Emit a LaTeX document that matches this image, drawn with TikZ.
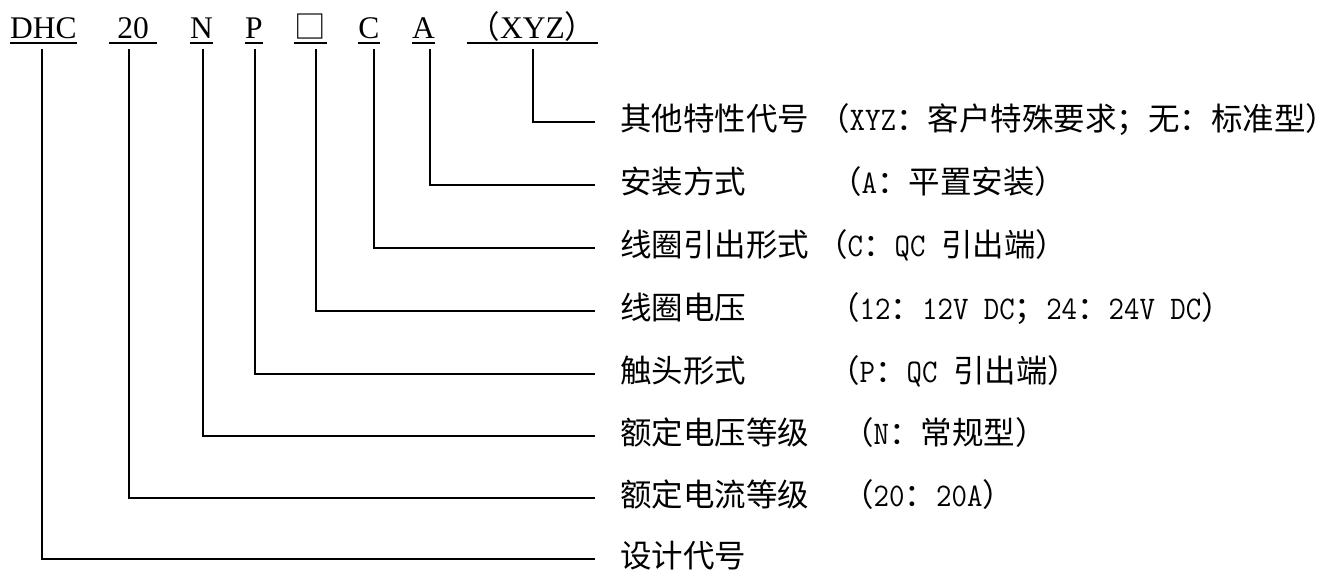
\documentclass[tikz,border=0pt]{standalone}
\usepackage{fontspec}
\setmainfont{Liberation Serif}
\newfontfamily\cjk{Noto Sans CJK SC}
\newfontfamily\hwfont{Latin Modern Mono}[FakeStretch=0.909]
\newcommand\hwtxt[1]{{\hwfont\fontsize{33}{36}\selectfont #1}}
\begin{document}
\begin{tikzpicture}[x=1pt,y=-1pt,
  conn/.style={line width=1.8pt},
  uline/.style={line width=2pt},
  top/.style={inner sep=0pt, anchor=base, text depth=4pt, font=\fontsize{31.5}{36}\selectfont},
  lab/.style={inner sep=0pt, anchor=west, text height=24pt, text depth=6.5pt, font=\cjk\fontsize{31.5}{36}\selectfont}]
\fill[white] (0,0) rectangle (1341,572);
\useasboundingbox (0,0) rectangle (1341,572);
% top row
\node[top, minimum width=67pt] (t1) at (43.5,39) {DHC};
\node[top, minimum width=48pt] (t2) at (133,39) {20\hspace{16.5pt}};
\node[top, minimum width=23pt] (t3) at (201.5,39) {N};
\node[top, minimum width=18pt] (t4) at (254,39) {P};
\node[top, minimum width=33pt] (t5) at (310.5,39) {{\cjk □}};
\node[top, minimum width=22pt] (t6) at (369,39) {C};
\node[top, minimum width=23pt] (t7) at (423.5,39) {A};
\node[top, minimum width=131pt] (t8) at (532.5,39) {{\cjk （}XYZ{\cjk ）}};
\foreach \n in {t1,t2,t3,t4,t5,t6,t7,t8} \draw[uline] (\n.south west) -- (\n.south east);
% labels
\node[lab] (l1) at (620,122) {其他特性代号};
\node[lab] (l2) at (620,185) {安装方式};
\node[lab] (l3) at (620,248) {线圈引出形式};
\node[lab] (l4) at (620,311) {线圈电压};
\node[lab] (l5) at (620,374) {触头形式};
\node[lab] (l6) at (620,436) {额定电压等级};
\node[lab] (l7) at (620,498) {额定电流等级};
\node[lab] (l8) at (620,559) {设计代号};
% details
\node[lab] (d1) at (818,122) {（\hwtxt{XYZ}：客户特殊要求；无：标准型）};
\node[lab] (d2) at (830,185) {（\hwtxt{A}：平置安装）};
\node[lab] (d3) at (816,248) {（\hwtxt{C}：\hwtxt{QC\ }引出端）};
\node[lab] (d4) at (828,311) {（\hwtxt{12}：\hwtxt{12V DC}；\hwtxt{24}：\hwtxt{24V DC}）};
\node[lab] (d5) at (828,374) {（\hwtxt{P}：\hwtxt{QC\ }引出端）};
\node[lab] (d6) at (842,436) {（\hwtxt{N}：常规型）};
\node[lab] (d7) at (842,498) {（\hwtxt{20}：\hwtxt{20A}）};
% connectors
\draw[conn] ([xshift=0.5pt,yshift=-6pt]t8.south) |- ([xshift=-25pt]l1.west);
\draw[conn] ([xshift=6.5pt,yshift=-6pt]t7.south) |- ([xshift=-25pt]l2.west);
\draw[conn] ([xshift=5pt,yshift=-6pt]t6.south) |- ([xshift=-25pt]l3.west);
\draw[conn] ([xshift=5.5pt,yshift=-6pt]t5.south) |- ([xshift=-25pt]l4.west);
\draw[conn] ([xshift=1pt,yshift=-6pt]t4.south) |- ([xshift=-25pt]l5.west);
\draw[conn] ([xshift=1.5pt,yshift=-6pt]t3.south) |- ([xshift=-25pt]l6.west);
\draw[conn] ([xshift=-4pt,yshift=-6pt]t2.south) |- ([xshift=-25pt]l7.west);
\draw[conn] ([xshift=-1.5pt,yshift=-6pt]t1.south) |- ([xshift=-25pt]l8.west);
\end{tikzpicture}
\end{document}
